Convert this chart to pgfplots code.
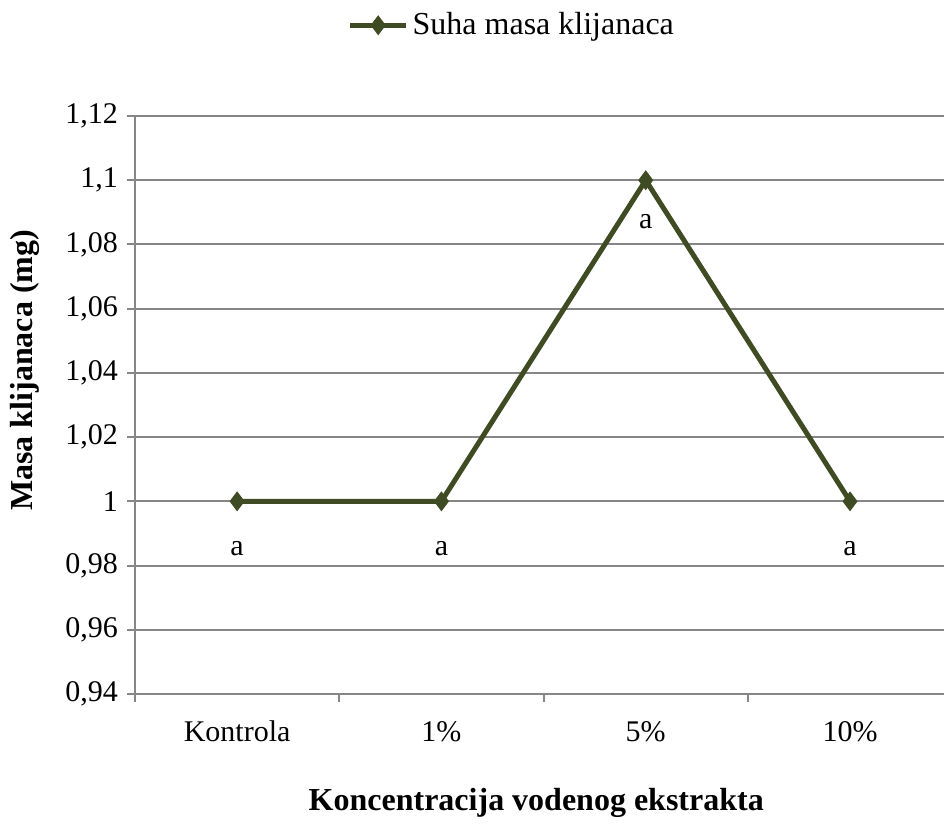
\documentclass[border=0pt]{standalone}
\usepackage{pgfplots}
\pgfplotsset{compat=1.18}
\usepackage{fontspec}
\setmainfont{Liberation Serif}
\definecolor{lineolive}{RGB}{63,75,35}
\definecolor{gridgray}{RGB}{134,134,134}
\begin{document}
\begin{tikzpicture}[font=\fontsize{15}{18}\selectfont]
\useasboundingbox (0,0) rectangle (472pt,412.5pt);
\begin{axis}[
  at={(67.5pt,65.5pt)}, anchor=south west,
  scale only axis, width=404.5pt, height=289pt,
  xmin=-0.5, xmax=3.46, ymin=0.94, ymax=1.12,
  axis x line=bottom, axis y line=left,
  axis line style={gridgray, line width=1pt, -},
  ytick={0.94,0.96,0.98,1.0,1.02,1.04,1.06,1.08,1.1,1.12},
  ymajorgrids, grid style={gridgray, line width=1pt},
  /pgf/number format/use comma,
  /pgf/number format/fixed,
  /pgf/number format/precision=2,
  /pgf/number format/assume math mode=true,
  xtick={0,1,2,3}, xticklabels={Kontrola,1\%,5\%,10\%},
  minor xtick={-0.5,0.5,1.5,2.5},
  tick align=outside,
  major x tick style={draw=none},
  minor x tick style={gridgray, line width=1pt},
  minor tick length=4pt,
  major y tick style={gridgray, line width=1pt},
  major tick length=4pt,
  xticklabel style={yshift=-6pt},
  yticklabel style={xshift=-1pt},
  xlabel={\textbf{Koncentracija vodenog ekstrakta}},
  ylabel={\textbf{Masa klijanaca (mg)}},
  xlabel style={at={(axis description cs:0.496,-0.1886)}, anchor=center, font=\fontsize{16}{19}\selectfont},
  ylabel style={at={(axis description cs:-0.136,0.56)}, anchor=center, font=\fontsize{16}{19}\selectfont},
  clip=false,
  legend style={at={(axis description cs:0.467,1.157)}, anchor=center, draw=none, fill=none,
    font=\fontsize{16}{19}\selectfont,
    /tikz/every even column/.style={column sep=2pt}},
  legend cell align=left,
  legend image code/.code={\draw[#1] (0pt,0pt) -- (28pt,0pt); \draw[#1, mark repeat=1] plot coordinates {(14pt,0pt)};},
]
\addplot[color=lineolive, line width=2.5pt, mark=diamond*, mark size=4.6pt,
  mark options={fill=lineolive, line width=0.5pt}]
  coordinates {(0,1.0) (1,1.0) (2,1.1) (3,1.0)};
\addlegendentry{Suha masa klijanaca}
\addplot[draw=none, mark=none, forget plot, nodes near coords={a},
  every node near coord/.append style={anchor=center, black, font=\fontsize{15}{18}\selectfont}]
  coordinates {(0,0.9852) (1,0.9852) (2,1.087) (3,0.9852)};
\end{axis}
\end{tikzpicture}
\end{document}
